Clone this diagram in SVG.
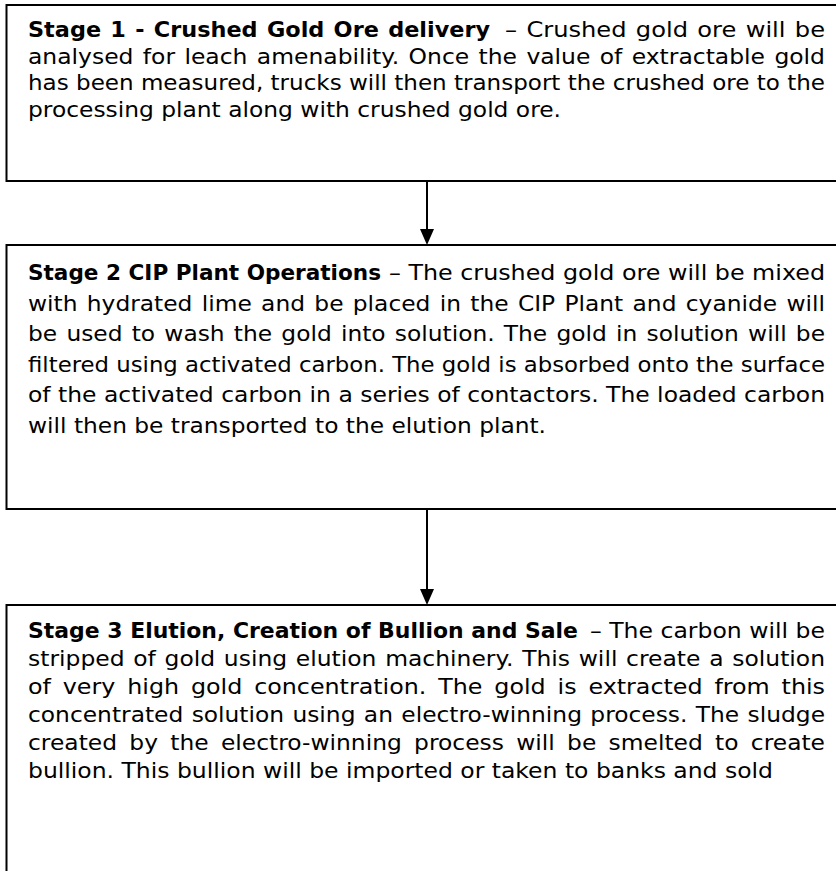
<svg xmlns="http://www.w3.org/2000/svg" width="836" height="871" viewBox="0 0 836 871">
<style>
.box{fill:#fff;stroke:#000;stroke-width:2}
.t{font-family:"DejaVu Sans","Verdana",sans-serif;font-size:22px;fill:#000}
.b{font-weight:bold}
.con{stroke:#000;stroke-width:2;fill:none}
.head{fill:#000}
</style>
<g id="connectors">
<line class="con" x1="427" y1="181" x2="427" y2="229"/>
<path class="head" d="M420,229 L434,229 L427,245 Z"/>
<line class="con" x1="427" y1="509" x2="427" y2="589"/>
<path class="head" d="M420,589 L434,589 L427,605 Z"/>
</g>
<g id="stage1">
<rect class="box" x="6.5" y="5" width="840" height="176"/>
<text class="t b" x="28" y="37" word-spacing="1.5" textLength="462" lengthAdjust="spacingAndGlyphs">Stage 1 - Crushed Gold Ore delivery</text>
<text class="t" x="505" y="37" word-spacing="1.5" textLength="320" lengthAdjust="spacingAndGlyphs">– Crushed gold ore will be</text>
<text class="t" x="28" y="63.5" word-spacing="1.8" textLength="797" lengthAdjust="spacingAndGlyphs">analysed for leach amenability. Once the value of extractable gold</text>
<text class="t" x="28" y="90" textLength="797" lengthAdjust="spacingAndGlyphs">has been measured, trucks will then transport the crushed ore to the</text>
<text class="t" x="28" y="116.5" textLength="533" lengthAdjust="spacingAndGlyphs">processing plant along with crushed gold ore.</text>
</g>
<g id="stage2">
<rect class="box" x="6.5" y="245" width="840" height="264"/>
<text class="t b" x="28" y="280" textLength="353" lengthAdjust="spacingAndGlyphs">Stage 2 CIP Plant Operations</text>
<text class="t" x="389" y="280" textLength="436" lengthAdjust="spacingAndGlyphs">– The crushed gold ore will be mixed</text>
<text class="t" x="28" y="310.5" word-spacing="1.8" textLength="797" lengthAdjust="spacingAndGlyphs">with hydrated lime and be placed in the CIP Plant and cyanide will</text>
<text class="t" x="28" y="341" word-spacing="1.7" textLength="797" lengthAdjust="spacingAndGlyphs">be used to wash the gold into solution. The gold in solution will be</text>
<text class="t" x="28" y="371.5" textLength="797" lengthAdjust="spacingAndGlyphs">filtered using activated carbon. The gold is absorbed onto the surface</text>
<text class="t" x="28" y="402" textLength="797" lengthAdjust="spacingAndGlyphs">of the activated carbon in a series of contactors. The loaded carbon</text>
<text class="t" x="28" y="432.5" textLength="518" lengthAdjust="spacingAndGlyphs">will then be transported to the elution plant.</text>
</g>
<g id="stage3">
<rect class="box" x="6.5" y="605" width="840" height="280"/>
<text class="t b" x="28" y="638" textLength="550" lengthAdjust="spacingAndGlyphs">Stage 3 Elution, Creation of Bullion and Sale</text>
<text class="t" x="590" y="638" textLength="235" lengthAdjust="spacingAndGlyphs">– The carbon will be</text>
<text class="t" x="28" y="666" word-spacing="1.2" textLength="797" lengthAdjust="spacingAndGlyphs">stripped of gold using elution machinery. This will create a solution</text>
<text class="t" x="28" y="694" word-spacing="4" textLength="797" lengthAdjust="spacingAndGlyphs">of very high gold concentration. The gold is extracted from this</text>
<text class="t" x="28" y="722" word-spacing="0.9" textLength="797" lengthAdjust="spacingAndGlyphs">concentrated solution using an electro-winning process. The sludge</text>
<text class="t" x="28" y="750" word-spacing="4.6" textLength="797" lengthAdjust="spacingAndGlyphs">created by the electro-winning process will be smelted to create</text>
<text class="t" x="28" y="778" textLength="745" lengthAdjust="spacingAndGlyphs">bullion. This bullion will be imported or taken to banks and sold</text>
</g>
</svg>
